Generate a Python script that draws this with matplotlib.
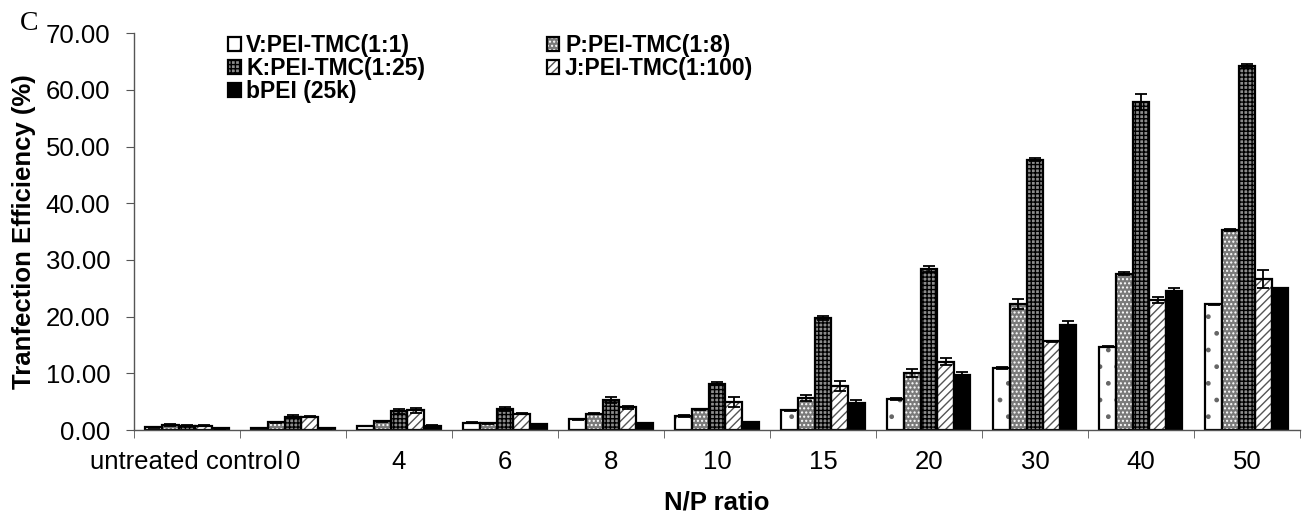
import matplotlib
matplotlib.use("Agg")
import matplotlib.pyplot as plt
from matplotlib.legend_handler import HandlerTuple
import numpy as np

plt.rcParams['font.family'] = ['Liberation Sans', 'DejaVu Sans']
plt.rcParams['hatch.linewidth'] = 1.0

categories = ["untreated control", "0", "4", "6", "8", "10", "15", "20", "30", "40", "50"]
series_names = ["V:PEI-TMC(1:1)", "P:PEI-TMC(1:8)", "K:PEI-TMC(1:25)", "J:PEI-TMC(1:100)", "bPEI (25k)"]

V = [0.5, 0.4, 0.7, 1.3, 1.9, 2.5, 3.5, 5.5, 11.0, 14.7, 22.2]
P = [0.9, 1.4, 1.6, 1.2, 2.9, 3.7, 5.7, 10.1, 22.3, 27.6, 35.3]
K = [0.8, 2.4, 3.3, 3.7, 5.3, 8.2, 19.8, 28.4, 47.7, 57.9, 64.2]
J = [0.8, 2.4, 3.5, 2.9, 4.0, 4.9, 7.8, 12.1, 15.7, 22.9, 26.6]
B = [0.3, 0.3, 0.8, 1.0, 1.2, 1.4, 4.8, 9.8, 18.6, 24.5, 25.0]

V_err = [0.05, 0.05, 0.05, 0.1, 0.1, 0.1, 0.1, 0.1, 0.2, 0.1, 0.1]
P_err = [0.1, 0.1, 0.1, 0.1, 0.1, 0.1, 0.5, 0.7, 0.9, 0.2, 0.2]
K_err = [0.05, 0.2, 0.4, 0.3, 0.5, 0.3, 0.3, 0.6, 0.2, 1.4, 0.3]
J_err = [0.05, 0.15, 0.4, 0.1, 0.3, 0.9, 0.9, 0.6, 0.1, 0.5, 1.6]
B_err = [0.02, 0.05, 0.05, 0.05, 0.1, 0.1, 0.6, 0.4, 0.7, 0.6, 0.1]

values = [V, P, K, J, B]
errors = [V_err, P_err, K_err, J_err, B_err]
# (face colour, hatch, hatch colour)
styles = [
    ("white", ".", "#666666"),
    ("#7a7a7a", "....", "white"),
    ("#8c8c8c", "++++", "black"),
    ("white", "////", "#555555"),
    ("black", None, "black"),
]

fig = plt.figure(figsize=(13.09, 5.17), dpi=100)
ax = fig.add_axes([0.1024, 0.168, 0.8906, 0.768])

x = np.arange(len(categories))
w = 0.157
handles = []
for i, (vals, errs, (fc, hatch, hc)) in enumerate(zip(values, errors, styles)):
    pos = x + (i - 2) * w
    base = ax.bar(pos, vals, width=w, facecolor=fc, hatch=hatch, edgecolor=hc,
                  linewidth=0, zorder=2)
    outl = ax.bar(pos, vals, width=w, fill=False, edgecolor="black",
                  linewidth=1.6, zorder=2.5)
    ax.errorbar(pos, vals, yerr=errs, fmt="none", ecolor="black",
                elinewidth=1.3, capsize=4, capthick=1.3, zorder=3)
    handles.append((base.patches[0], outl.patches[0]))

ax.set_xlim(-0.5, len(categories) - 0.5)
ax.set_ylim(0, 70)
ax.set_yticks(np.arange(0, 71, 10))
ax.set_yticklabels([f"{v:.2f}" for v in np.arange(0, 71, 10)], fontsize=18.5)
ax.set_xticks(x)
ax.set_xticklabels(categories, fontsize=18.5)
ax.tick_params(axis="x", which="major", length=0, pad=14)
ax.set_xticks(np.arange(-0.5, len(categories) + 0.5, 1), minor=True)
ax.tick_params(axis="x", which="minor", length=6, direction="out", color="#555555")
ax.tick_params(axis="y", length=6, direction="out", color="#555555", pad=11)

for s in ["top", "right"]:
    ax.spines[s].set_visible(False)
for s in ["left", "bottom"]:
    ax.spines[s].set_color("#555555")
    ax.spines[s].set_linewidth(1.0)

ax.set_ylabel("Tranfection Efficiency (%)", fontsize=18.5, fontweight="bold", labelpad=7)
ax.set_xlabel("N/P ratio", fontsize=18.5, fontweight="bold", labelpad=12)

order = [0, 2, 4, 1, 3]
leg = ax.legend([handles[k] for k in order], [series_names[k] for k in order],
                handler_map={tuple: HandlerTuple(ndivide=1, pad=0)},
                ncol=2, loc="upper left", bbox_to_anchor=(228 / 1309, 1 - 34 / 517),
                bbox_transform=fig.transFigure, frameon=False,
                prop=dict(size=16.5, weight="bold"), handlelength=0.55,
                handleheight=0.55, handletextpad=0.25, columnspacing=5.3,
                labelspacing=0.0, borderpad=0, borderaxespad=0)

fig.text(20 / 1309, 1 - 30 / 517, "C", family="Liberation Serif", fontsize=20)

fig.savefig("out.png", dpi=100)
